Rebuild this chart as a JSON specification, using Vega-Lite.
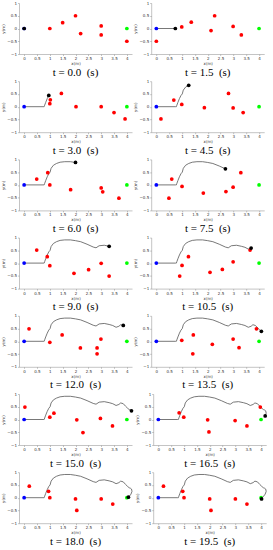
{
"$schema":"https://vega.github.io/schema/vega-lite/v6.json",
"padding":{"left":1,"top":1,"right":0,"bottom":0},
"background":"white",
"datasets":{
"path":[
{"o":1,"k":0,"x":0,"y":0},{"o":2,"k":1,"x":0.74,"y":0},{"o":3,"k":2,"x":0.78,"y":0},{"o":4,"k":2,"x":0.8,"y":0.06},{"o":5,"k":2,"x":0.84,"y":0.17},{"o":6,"k":2,"x":0.9,"y":0.32},{"o":7,"k":2,"x":0.96,"y":0.44},
{"o":8,"k":3,"x":1.01,"y":0.5},{"o":9,"k":3,"x":1.05,"y":0.65},{"o":10,"k":3,"x":1.14,"y":0.77},{"o":11,"k":3,"x":1.26,"y":0.84},
{"o":12,"k":4,"x":1.4,"y":0.89},{"o":13,"k":4,"x":1.58,"y":0.91},{"o":14,"k":4,"x":1.8,"y":0.91},{"o":15,"k":4,"x":2.0,"y":0.88},
{"o":16,"k":5,"x":2.2,"y":0.84},{"o":17,"k":5,"x":2.45,"y":0.74},{"o":18,"k":5,"x":2.69,"y":0.63},
{"o":19,"k":6,"x":2.8,"y":0.6},{"o":20,"k":6,"x":2.92,"y":0.68},{"o":21,"k":6,"x":3.12,"y":0.7},{"o":22,"k":6,"x":3.31,"y":0.66},
{"o":23,"k":7,"x":3.45,"y":0.62},{"o":24,"k":7,"x":3.58,"y":0.55},{"o":25,"k":7,"x":3.69,"y":0.59},
{"o":26,"k":8,"x":3.76,"y":0.65},{"o":27,"k":8,"x":3.86,"y":0.62},
{"o":28,"k":9,"x":3.95,"y":0.52},{"o":29,"k":9,"x":4.02,"y":0.45},{"o":30,"k":9,"x":4.09,"y":0.39},
{"o":31,"k":10,"x":4.14,"y":0.37},{"o":32,"k":10,"x":4.18,"y":0.34},
{"o":33,"k":11,"x":4.2,"y":0.25},{"o":34,"k":11,"x":4.16,"y":0.14},
{"o":35,"k":12,"x":4.1,"y":0.06},{"o":36,"k":12,"x":4.06,"y":0.02},
{"o":37,"k":13,"x":4.03,"y":-0.02},{"o":38,"k":13,"x":4.02,"y":-0.05}
],
"pts":[
{"p":0,"c":"obs","x":1.0,"y":0},{"p":0,"c":"obs","x":1.5,"y":0.23},{"p":0,"c":"obs","x":2.0,"y":0.5},{"p":0,"c":"obs","x":2.2,"y":-0.2},{"p":0,"c":"obs","x":3.0,"y":0.1},{"p":0,"c":"obs","x":3.0,"y":-0.25},{"p":0,"c":"obs","x":4.0,"y":-0.5},{"p":0,"c":"start","x":0,"y":0},{"p":0,"c":"goal","x":4,"y":0},{"p":0,"c":"robot","x":0,"y":0},
{"p":1,"c":"obs","x":0,"y":-0.5},{"p":1,"c":"obs","x":0.99,"y":0.06},{"p":1,"c":"obs","x":1.36,"y":0.25},{"p":1,"c":"obs","x":2.13,"y":-0.08},{"p":1,"c":"obs","x":2.27,"y":0.5},{"p":1,"c":"obs","x":2.99,"y":0.08},{"p":1,"c":"obs","x":3.31,"y":-0.25},{"p":1,"c":"start","x":0,"y":0},{"p":1,"c":"goal","x":4,"y":0},{"p":1,"c":"robot","x":0.74,"y":0},
{"p":2,"c":"obs","x":1.02,"y":0.27},{"p":2,"c":"obs","x":1.0,"y":0.12},{"p":2,"c":"obs","x":1.45,"y":0.52},{"p":2,"c":"obs","x":2.02,"y":0},{"p":2,"c":"obs","x":3.0,"y":0},{"p":2,"c":"obs","x":3.5,"y":-0.23},{"p":2,"c":"obs","x":3.93,"y":-0.48},{"p":2,"c":"start","x":0,"y":0},{"p":2,"c":"goal","x":4,"y":0},{"p":2,"c":"robot","x":0.96,"y":0.44},
{"p":3,"c":"obs","x":0.18,"y":-0.48},{"p":3,"c":"obs","x":0.68,"y":0.26},{"p":3,"c":"obs","x":0.99,"y":0.09},{"p":3,"c":"obs","x":1.87,"y":-0.04},{"p":3,"c":"obs","x":2.81,"y":0.52},{"p":3,"c":"obs","x":2.99,"y":-0.05},{"p":3,"c":"obs","x":3.38,"y":-0.23},{"p":3,"c":"start","x":0,"y":0},{"p":3,"c":"goal","x":4,"y":0},{"p":3,"c":"robot","x":1.26,"y":0.84},
{"p":4,"c":"obs","x":0.49,"y":0.23},{"p":4,"c":"obs","x":0.92,"y":0.48},{"p":4,"c":"obs","x":1.0,"y":0},{"p":4,"c":"obs","x":1.81,"y":-0.19},{"p":4,"c":"obs","x":3.0,"y":-0.12},{"p":4,"c":"obs","x":3.06,"y":-0.27},{"p":4,"c":"obs","x":3.69,"y":-0.52},{"p":4,"c":"start","x":0,"y":0},{"p":4,"c":"goal","x":4,"y":0},{"p":4,"c":"robot","x":2.0,"y":0.88},
{"p":5,"c":"obs","x":0.49,"y":-0.52},{"p":5,"c":"obs","x":0.6,"y":0.23},{"p":5,"c":"obs","x":1.0,"y":-0.06},{"p":5,"c":"obs","x":1.83,"y":-0.32},{"p":5,"c":"obs","x":2.71,"y":-0.26},{"p":5,"c":"obs","x":2.99,"y":-0.09},{"p":5,"c":"obs","x":3.29,"y":0.48},{"p":5,"c":"start","x":0,"y":0},{"p":5,"c":"goal","x":4,"y":0},{"p":5,"c":"robot","x":2.69,"y":0.63},
{"p":6,"c":"obs","x":0.49,"y":0.51},{"p":6,"c":"obs","x":0.9,"y":0.25},{"p":6,"c":"obs","x":1.0,"y":-0.1},{"p":6,"c":"obs","x":1.94,"y":-0.4},{"p":6,"c":"obs","x":2.51,"y":-0.26},{"p":6,"c":"obs","x":3.0,"y":-0.01},{"p":6,"c":"obs","x":3.31,"y":-0.51},{"p":6,"c":"start","x":0,"y":0},{"p":6,"c":"goal","x":4,"y":0},{"p":6,"c":"robot","x":3.31,"y":0.66},
{"p":7,"c":"obs","x":0.91,"y":-0.51},{"p":7,"c":"obs","x":1.0,"y":-0.09},{"p":7,"c":"obs","x":1.25,"y":0.25},{"p":7,"c":"obs","x":2.09,"y":-0.36},{"p":7,"c":"obs","x":2.57,"y":-0.25},{"p":7,"c":"obs","x":2.99,"y":0.05},{"p":7,"c":"obs","x":3.65,"y":0.51},{"p":7,"c":"start","x":0,"y":0},{"p":7,"c":"goal","x":4,"y":0},{"p":7,"c":"robot","x":3.69,"y":0.59},
{"p":8,"c":"obs","x":0.19,"y":0.49},{"p":8,"c":"obs","x":1.0,"y":-0.04},{"p":8,"c":"obs","x":1.48,"y":0.25},{"p":8,"c":"obs","x":2.19,"y":-0.26},{"p":8,"c":"obs","x":2.84,"y":-0.26},{"p":8,"c":"obs","x":2.84,"y":-0.49},{"p":8,"c":"obs","x":2.99,"y":0.09},{"p":8,"c":"start","x":0,"y":0},{"p":8,"c":"goal","x":4,"y":0},{"p":8,"c":"robot","x":3.86,"y":0.62},
{"p":9,"c":"obs","x":0.99,"y":0.04},{"p":9,"c":"obs","x":1.44,"y":0.25},{"p":9,"c":"obs","x":1.42,"y":-0.49},{"p":9,"c":"obs","x":2.18,"y":-0.12},{"p":9,"c":"obs","x":2.99,"y":0.09},{"p":9,"c":"obs","x":3.22,"y":-0.25},{"p":9,"c":"obs","x":3.9,"y":0.49},{"p":9,"c":"start","x":0,"y":0},{"p":9,"c":"goal","x":4,"y":0},{"p":9,"c":"robot","x":4.09,"y":0.39},
{"p":10,"c":"obs","x":0.03,"y":0.49},{"p":10,"c":"obs","x":1.0,"y":0.09},{"p":10,"c":"obs","x":1.16,"y":0.25},{"p":10,"c":"obs","x":2.05,"y":-0.01},{"p":10,"c":"obs","x":2.29,"y":-0.51},{"p":10,"c":"obs","x":2.97,"y":0.04},{"p":10,"c":"obs","x":3.44,"y":-0.25},{"p":10,"c":"start","x":0,"y":0},{"p":10,"c":"goal","x":4,"y":0},{"p":10,"c":"robot","x":4.18,"y":0.34},
{"p":11,"c":"obs","x":0.81,"y":0.26},{"p":11,"c":"obs","x":0.99,"y":0.09},{"p":11,"c":"obs","x":1.92,"y":-0.01},{"p":11,"c":"obs","x":1.97,"y":-0.49},{"p":11,"c":"obs","x":2.99,"y":-0.04},{"p":11,"c":"obs","x":3.45,"y":-0.25},{"p":11,"c":"obs","x":3.97,"y":0.49},{"p":11,"c":"start","x":0,"y":0},{"p":11,"c":"goal","x":4,"y":0},{"p":11,"c":"robot","x":4.16,"y":0.14},
{"p":12,"c":"obs","x":0.2,"y":0.45},{"p":12,"c":"obs","x":0.95,"y":0.25},{"p":12,"c":"obs","x":1.0,"y":0.0},{"p":12,"c":"obs","x":2.0,"y":-0.05},{"p":12,"c":"obs","x":2.05,"y":-0.5},{"p":12,"c":"obs","x":3.0,"y":-0.05},{"p":12,"c":"obs","x":3.45,"y":-0.25},{"p":12,"c":"start","x":0,"y":0},{"p":12,"c":"goal","x":4,"y":0},{"p":12,"c":"robot","x":4.06,"y":0.02},
{"p":13,"c":"obs","x":0.2,"y":0.45},{"p":13,"c":"obs","x":0.95,"y":0.25},{"p":13,"c":"obs","x":1.0,"y":0.0},{"p":13,"c":"obs","x":2.0,"y":-0.05},{"p":13,"c":"obs","x":2.05,"y":-0.5},{"p":13,"c":"obs","x":3.0,"y":-0.05},{"p":13,"c":"obs","x":3.45,"y":-0.25},{"p":13,"c":"start","x":0,"y":0},{"p":13,"c":"goal","x":4,"y":0},{"p":13,"c":"robot","x":4.02,"y":-0.05}
]
},
"vconcat":[
{"hconcat":[
{"width":113,"height":51,"title":"t = 0.0 \u00a0(s)","encoding":{"x":{"field":"x","type":"quantitative","scale":{"domain":[-0.2,4.2],"nice":false},"axis":{"title":"x(m)","values":[0,0.5,1,1.5,2,2.5,3,3.5,4]}},"y":{"field":"y","type":"quantitative","scale":{"domain":[-1,1],"nice":false},"axis":{"title":"y(m)","values":[-1,-0.5,0,0.5,1]}}},"layer":[
{"data":{"name":"path"},"transform":[{"filter":"datum.k <= 0"}],"mark":{"type":"line","color":"#555","strokeWidth":0.8},"encoding":{"order":{"field":"o"}}},
{"data":{"name":"pts"},"transform":[{"filter":"datum.p == 0"}],"mark":{"type":"point","filled":true,"size":14,"opacity":1},"encoding":{"color":{"field":"c","type":"nominal","scale":{"domain":["obs","start","goal","robot"],"range":["#ff0000","#0000ff","#00ff00","#000000"]},"legend":null}}}]},
{"width":113,"height":51,"title":"t = 1.5 \u00a0(s)","encoding":{"x":{"field":"x","type":"quantitative","scale":{"domain":[-0.2,4.2],"nice":false},"axis":{"title":"x(m)","values":[0,0.5,1,1.5,2,2.5,3,3.5,4]}},"y":{"field":"y","type":"quantitative","scale":{"domain":[-1,1],"nice":false},"axis":{"title":"y(m)","values":[-1,-0.5,0,0.5,1]}}},"layer":[
{"data":{"name":"path"},"transform":[{"filter":"datum.k <= 1"}],"mark":{"type":"line","color":"#555","strokeWidth":0.8},"encoding":{"order":{"field":"o"}}},
{"data":{"name":"pts"},"transform":[{"filter":"datum.p == 1"}],"mark":{"type":"point","filled":true,"size":14,"opacity":1},"encoding":{"color":{"field":"c","type":"nominal","scale":{"domain":["obs","start","goal","robot"],"range":["#ff0000","#0000ff","#00ff00","#000000"]},"legend":null}}}]}
]},
{"hconcat":[
{"width":113,"height":51,"title":"t = 3.0 \u00a0(s)","encoding":{"x":{"field":"x","type":"quantitative","scale":{"domain":[-0.2,4.2],"nice":false},"axis":{"title":"x(m)","values":[0,0.5,1,1.5,2,2.5,3,3.5,4]}},"y":{"field":"y","type":"quantitative","scale":{"domain":[-1,1],"nice":false},"axis":{"title":"y(m)","values":[-1,-0.5,0,0.5,1]}}},"layer":[
{"data":{"name":"path"},"transform":[{"filter":"datum.k <= 2"}],"mark":{"type":"line","color":"#555","strokeWidth":0.8},"encoding":{"order":{"field":"o"}}},
{"data":{"name":"pts"},"transform":[{"filter":"datum.p == 2"}],"mark":{"type":"point","filled":true,"size":14,"opacity":1},"encoding":{"color":{"field":"c","type":"nominal","scale":{"domain":["obs","start","goal","robot"],"range":["#ff0000","#0000ff","#00ff00","#000000"]},"legend":null}}}]},
{"width":113,"height":51,"title":"t = 4.5 \u00a0(s)","encoding":{"x":{"field":"x","type":"quantitative","scale":{"domain":[-0.2,4.2],"nice":false},"axis":{"title":"x(m)","values":[0,0.5,1,1.5,2,2.5,3,3.5,4]}},"y":{"field":"y","type":"quantitative","scale":{"domain":[-1,1],"nice":false},"axis":{"title":"y(m)","values":[-1,-0.5,0,0.5,1]}}},"layer":[
{"data":{"name":"path"},"transform":[{"filter":"datum.k <= 3"}],"mark":{"type":"line","color":"#555","strokeWidth":0.8},"encoding":{"order":{"field":"o"}}},
{"data":{"name":"pts"},"transform":[{"filter":"datum.p == 3"}],"mark":{"type":"point","filled":true,"size":14,"opacity":1},"encoding":{"color":{"field":"c","type":"nominal","scale":{"domain":["obs","start","goal","robot"],"range":["#ff0000","#0000ff","#00ff00","#000000"]},"legend":null}}}]}
]},
{"hconcat":[
{"width":113,"height":51,"title":"t = 6.0 \u00a0(s)","encoding":{"x":{"field":"x","type":"quantitative","scale":{"domain":[-0.2,4.2],"nice":false},"axis":{"title":"x(m)","values":[0,0.5,1,1.5,2,2.5,3,3.5,4]}},"y":{"field":"y","type":"quantitative","scale":{"domain":[-1,1],"nice":false},"axis":{"title":"y(m)","values":[-1,-0.5,0,0.5,1]}}},"layer":[
{"data":{"name":"path"},"transform":[{"filter":"datum.k <= 4"}],"mark":{"type":"line","color":"#555","strokeWidth":0.8},"encoding":{"order":{"field":"o"}}},
{"data":{"name":"pts"},"transform":[{"filter":"datum.p == 4"}],"mark":{"type":"point","filled":true,"size":14,"opacity":1},"encoding":{"color":{"field":"c","type":"nominal","scale":{"domain":["obs","start","goal","robot"],"range":["#ff0000","#0000ff","#00ff00","#000000"]},"legend":null}}}]},
{"width":113,"height":51,"title":"t = 7.5 \u00a0(s)","encoding":{"x":{"field":"x","type":"quantitative","scale":{"domain":[-0.2,4.2],"nice":false},"axis":{"title":"x(m)","values":[0,0.5,1,1.5,2,2.5,3,3.5,4]}},"y":{"field":"y","type":"quantitative","scale":{"domain":[-1,1],"nice":false},"axis":{"title":"y(m)","values":[-1,-0.5,0,0.5,1]}}},"layer":[
{"data":{"name":"path"},"transform":[{"filter":"datum.k <= 5"}],"mark":{"type":"line","color":"#555","strokeWidth":0.8},"encoding":{"order":{"field":"o"}}},
{"data":{"name":"pts"},"transform":[{"filter":"datum.p == 5"}],"mark":{"type":"point","filled":true,"size":14,"opacity":1},"encoding":{"color":{"field":"c","type":"nominal","scale":{"domain":["obs","start","goal","robot"],"range":["#ff0000","#0000ff","#00ff00","#000000"]},"legend":null}}}]}
]},
{"hconcat":[
{"width":113,"height":51,"title":"t = 9.0 \u00a0(s)","encoding":{"x":{"field":"x","type":"quantitative","scale":{"domain":[-0.2,4.2],"nice":false},"axis":{"title":"x(m)","values":[0,0.5,1,1.5,2,2.5,3,3.5,4]}},"y":{"field":"y","type":"quantitative","scale":{"domain":[-1,1],"nice":false},"axis":{"title":"y(m)","values":[-1,-0.5,0,0.5,1]}}},"layer":[
{"data":{"name":"path"},"transform":[{"filter":"datum.k <= 6"}],"mark":{"type":"line","color":"#555","strokeWidth":0.8},"encoding":{"order":{"field":"o"}}},
{"data":{"name":"pts"},"transform":[{"filter":"datum.p == 6"}],"mark":{"type":"point","filled":true,"size":14,"opacity":1},"encoding":{"color":{"field":"c","type":"nominal","scale":{"domain":["obs","start","goal","robot"],"range":["#ff0000","#0000ff","#00ff00","#000000"]},"legend":null}}}]},
{"width":113,"height":51,"title":"t = 10.5 \u00a0(s)","encoding":{"x":{"field":"x","type":"quantitative","scale":{"domain":[-0.2,4.2],"nice":false},"axis":{"title":"x(m)","values":[0,0.5,1,1.5,2,2.5,3,3.5,4]}},"y":{"field":"y","type":"quantitative","scale":{"domain":[-1,1],"nice":false},"axis":{"title":"y(m)","values":[-1,-0.5,0,0.5,1]}}},"layer":[
{"data":{"name":"path"},"transform":[{"filter":"datum.k <= 7"}],"mark":{"type":"line","color":"#555","strokeWidth":0.8},"encoding":{"order":{"field":"o"}}},
{"data":{"name":"pts"},"transform":[{"filter":"datum.p == 7"}],"mark":{"type":"point","filled":true,"size":14,"opacity":1},"encoding":{"color":{"field":"c","type":"nominal","scale":{"domain":["obs","start","goal","robot"],"range":["#ff0000","#0000ff","#00ff00","#000000"]},"legend":null}}}]}
]},
{"hconcat":[
{"width":113,"height":51,"title":"t = 12.0 \u00a0(s)","encoding":{"x":{"field":"x","type":"quantitative","scale":{"domain":[-0.2,4.2],"nice":false},"axis":{"title":"x(m)","values":[0,0.5,1,1.5,2,2.5,3,3.5,4]}},"y":{"field":"y","type":"quantitative","scale":{"domain":[-1,1],"nice":false},"axis":{"title":"y(m)","values":[-1,-0.5,0,0.5,1]}}},"layer":[
{"data":{"name":"path"},"transform":[{"filter":"datum.k <= 8"}],"mark":{"type":"line","color":"#555","strokeWidth":0.8},"encoding":{"order":{"field":"o"}}},
{"data":{"name":"pts"},"transform":[{"filter":"datum.p == 8"}],"mark":{"type":"point","filled":true,"size":14,"opacity":1},"encoding":{"color":{"field":"c","type":"nominal","scale":{"domain":["obs","start","goal","robot"],"range":["#ff0000","#0000ff","#00ff00","#000000"]},"legend":null}}}]},
{"width":113,"height":51,"title":"t = 13.5 \u00a0(s)","encoding":{"x":{"field":"x","type":"quantitative","scale":{"domain":[-0.2,4.2],"nice":false},"axis":{"title":"x(m)","values":[0,0.5,1,1.5,2,2.5,3,3.5,4]}},"y":{"field":"y","type":"quantitative","scale":{"domain":[-1,1],"nice":false},"axis":{"title":"y(m)","values":[-1,-0.5,0,0.5,1]}}},"layer":[
{"data":{"name":"path"},"transform":[{"filter":"datum.k <= 9"}],"mark":{"type":"line","color":"#555","strokeWidth":0.8},"encoding":{"order":{"field":"o"}}},
{"data":{"name":"pts"},"transform":[{"filter":"datum.p == 9"}],"mark":{"type":"point","filled":true,"size":14,"opacity":1},"encoding":{"color":{"field":"c","type":"nominal","scale":{"domain":["obs","start","goal","robot"],"range":["#ff0000","#0000ff","#00ff00","#000000"]},"legend":null}}}]}
]},
{"hconcat":[
{"width":113,"height":51,"title":"t = 15.0 \u00a0(s)","encoding":{"x":{"field":"x","type":"quantitative","scale":{"domain":[-0.2,4.2],"nice":false},"axis":{"title":"x(m)","values":[0,0.5,1,1.5,2,2.5,3,3.5,4]}},"y":{"field":"y","type":"quantitative","scale":{"domain":[-1,1],"nice":false},"axis":{"title":"y(m)","values":[-1,-0.5,0,0.5,1]}}},"layer":[
{"data":{"name":"path"},"transform":[{"filter":"datum.k <= 10"}],"mark":{"type":"line","color":"#555","strokeWidth":0.8},"encoding":{"order":{"field":"o"}}},
{"data":{"name":"pts"},"transform":[{"filter":"datum.p == 10"}],"mark":{"type":"point","filled":true,"size":14,"opacity":1},"encoding":{"color":{"field":"c","type":"nominal","scale":{"domain":["obs","start","goal","robot"],"range":["#ff0000","#0000ff","#00ff00","#000000"]},"legend":null}}}]},
{"width":113,"height":51,"title":"t = 16.5 \u00a0(s)","encoding":{"x":{"field":"x","type":"quantitative","scale":{"domain":[-0.2,4.2],"nice":false},"axis":{"title":"x(m)","values":[0,0.5,1,1.5,2,2.5,3,3.5,4]}},"y":{"field":"y","type":"quantitative","scale":{"domain":[-1,1],"nice":false},"axis":{"title":"y(m)","values":[-1,-0.5,0,0.5,1]}}},"layer":[
{"data":{"name":"path"},"transform":[{"filter":"datum.k <= 11"}],"mark":{"type":"line","color":"#555","strokeWidth":0.8},"encoding":{"order":{"field":"o"}}},
{"data":{"name":"pts"},"transform":[{"filter":"datum.p == 11"}],"mark":{"type":"point","filled":true,"size":14,"opacity":1},"encoding":{"color":{"field":"c","type":"nominal","scale":{"domain":["obs","start","goal","robot"],"range":["#ff0000","#0000ff","#00ff00","#000000"]},"legend":null}}}]}
]},
{"hconcat":[
{"width":113,"height":51,"title":"t = 18.0 \u00a0(s)","encoding":{"x":{"field":"x","type":"quantitative","scale":{"domain":[-0.2,4.2],"nice":false},"axis":{"title":"x(m)","values":[0,0.5,1,1.5,2,2.5,3,3.5,4]}},"y":{"field":"y","type":"quantitative","scale":{"domain":[-1,1],"nice":false},"axis":{"title":"y(m)","values":[-1,-0.5,0,0.5,1]}}},"layer":[
{"data":{"name":"path"},"transform":[{"filter":"datum.k <= 12"}],"mark":{"type":"line","color":"#555","strokeWidth":0.8},"encoding":{"order":{"field":"o"}}},
{"data":{"name":"pts"},"transform":[{"filter":"datum.p == 12"}],"mark":{"type":"point","filled":true,"size":14,"opacity":1},"encoding":{"color":{"field":"c","type":"nominal","scale":{"domain":["obs","start","goal","robot"],"range":["#ff0000","#0000ff","#00ff00","#000000"]},"legend":null}}}]},
{"width":113,"height":51,"title":"t = 19.5 \u00a0(s)","encoding":{"x":{"field":"x","type":"quantitative","scale":{"domain":[-0.2,4.2],"nice":false},"axis":{"title":"x(m)","values":[0,0.5,1,1.5,2,2.5,3,3.5,4]}},"y":{"field":"y","type":"quantitative","scale":{"domain":[-1,1],"nice":false},"axis":{"title":"y(m)","values":[-1,-0.5,0,0.5,1]}}},"layer":[
{"data":{"name":"path"},"transform":[{"filter":"datum.k <= 13"}],"mark":{"type":"line","color":"#555","strokeWidth":0.8},"encoding":{"order":{"field":"o"}}},
{"data":{"name":"pts"},"transform":[{"filter":"datum.p == 13"}],"mark":{"type":"point","filled":true,"size":14,"opacity":1},"encoding":{"color":{"field":"c","type":"nominal","scale":{"domain":["obs","start","goal","robot"],"range":["#ff0000","#0000ff","#00ff00","#000000"]},"legend":null}}}]}
]}
],
"config":{
"view":{"stroke":null},
"concat":{"spacing":1.2},
"hconcat":{"spacing":13},
"vconcat":{"spacing":1.2},
"axis":{"grid":false,"labelFontSize":4,"titleFontSize":4,"titleFontWeight":"normal","labelFont":"DejaVu Sans","titleFont":"DejaVu Sans","tickSize":1.5,"labelPadding":1,"titlePadding":1,"domainColor":"#888","tickColor":"#888","domainWidth":0.5,"tickWidth":0.5,"labelColor":"#333","titleColor":"#333","format":"~g"},
"title":{"orient":"bottom","anchor":"middle","font":"Liberation Serif","fontSize":11,"fontWeight":"normal","color":"#000","offset":1}
}
}
